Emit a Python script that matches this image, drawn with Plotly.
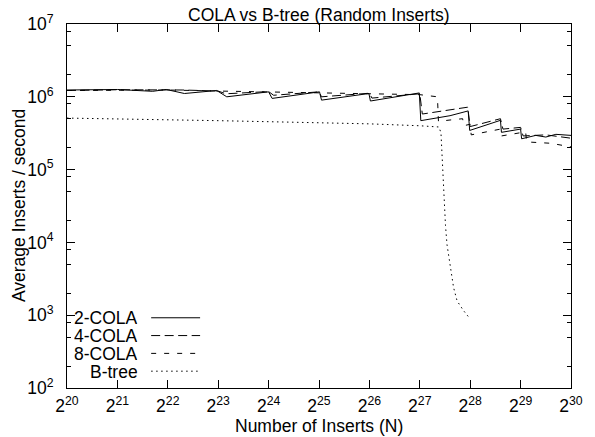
import plotly.graph_objects as go

# ---- data (x given as log2 of N, y as average inserts / second) ----
two_cola_k = [20.0, 21.0, 21.7, 21.97, 22.33, 22.97, 23.17, 24.0, 24.07, 25.01, 25.05,
              25.99, 26.02, 26.99, 27.02, 27.6, 27.96, 27.99, 28.6, 28.62, 29.0, 29.02,
              29.3, 29.5, 29.7, 30.0]
two_cola = [1.24e6, 1.26e6, 1.19e6, 1.26e6, 1.11e6, 1.22e6, 1.00e6, 1.17e6, 9.5e5, 1.17e6, 9.0e5,
            1.11e6, 8.75e5, 1.13e6, 4.7e5, 5.5e5, 6.4e5, 3.45e5, 4.75e5, 3.25e5, 3.6e5, 2.65e5,
            2.95e5, 2.8e5, 3.05e5, 2.95e5]

four_cola_k = [20.0, 21.0, 22.3, 23.0, 23.15, 24.0, 24.1, 25.0, 25.05, 26.0, 26.05, 27.0, 27.05,
               27.95, 28.0, 28.6, 28.65, 29.0, 29.05, 29.5, 30.0]
four_cola = [1.22e6, 1.25e6, 1.24e6, 1.20e6, 1.10e6, 1.18e6, 1.05e6, 1.17e6, 1.0e6, 1.12e6, 9.6e5,
             1.10e6, 5.8e5, 7.2e5, 3.9e5, 5.0e5, 3.6e5, 3.8e5, 2.9e5, 3.0e5, 2.7e5]

eight_cola_k = [20.0, 22.0, 23.0, 24.0, 25.0, 26.0, 27.0, 27.35, 27.37, 27.6, 27.85, 27.87,
                28.0, 28.02, 28.6, 28.62, 29.1, 29.12, 29.6, 30.0]
eight_cola = [1.22e6, 1.24e6, 1.2e6, 1.17e6, 1.13e6, 1.10e6, 1.07e6, 1.0e6, 4.6e5, 4.8e5, 5.0e5,
              4.0e5, 4.2e5, 3.0e5, 3.6e5, 2.9e5, 3.3e5, 2.4e5, 2.3e5, 2.05e5]

btree_k = [20, 21, 22, 23, 24, 25, 26, 27, 27.38, 27.42, 27.44, 27.46, 27.48, 27.51, 27.54,
           27.6, 27.67, 27.74, 27.8, 27.87, 27.94, 28.0]
btree = [5.1e5, 5.0e5, 4.85e5, 4.7e5, 4.55e5, 4.4e5, 4.25e5, 4.0e5, 3.85e5, 3.2e5, 1.6e5,
         7.0e4, 3.6e4, 1.7e4, 9.3e3, 4.7e3, 2.4e3, 1.57e3, 1.35e3, 1.15e3, 1.0e3, 8.9e2]

x_exponents = list(range(20, 31))
y_exponents = list(range(2, 8))
y_minor_mult = [2, 5, 8]

series_names = ["2-COLA", "4-COLA", "8-COLA", "B-tree"]
series_k = [two_cola_k, four_cola_k, eight_cola_k, btree_k]
series_v = [two_cola, four_cola, eight_cola, btree]
dashes = ["solid", "9px,4.5px", "5px,8px", "1.5px,3.5px"]

FONT = "Liberation Sans, Arial, Helvetica, sans-serif"
FS = 17.5

# plot area in pixels
L, R, T, B = 67, 582, 20, 388
W, H = R - L, B - T


def px(xp):
    return (xp - L) / W


def py(yp):
    return (B - yp) / H


fig = go.Figure()
for name, ks, vs, d in zip(series_names, series_k, series_v, dashes):
    fig.add_trace(go.Scatter(x=[2 ** k for k in ks], y=vs, mode="lines", name=name,
                             line=dict(color="black", width=1, dash=d), showlegend=False))

# manual legend (gnuplot style: text right-aligned, sample to the right)
leg_rows_px = [317, 335, 353, 371]
for name, d, ypx in zip(series_names, dashes, leg_rows_px):
    fig.add_annotation(x=px(141), y=py(ypx), xref="paper", yref="paper", text=name,
                       showarrow=False, xanchor="right", yanchor="middle", borderpad=0,
                       height=17, valign="middle",
                       font=dict(size=FS, family=FONT, color="black"))
    fig.add_shape(type="line", xref="paper", yref="paper", x0=px(153), x1=px(203),
                  y0=py(ypx), y1=py(ypx), line=dict(color="black", width=1, dash=d))

# title and axis titles
fig.add_annotation(x=0.5, y=py(11), xref="paper", yref="paper",
                   text="COLA vs B-tree (Random Inserts)", showarrow=False, borderpad=0,
                   xanchor="center", yanchor="middle", font=dict(size=FS))
fig.add_annotation(x=0.5, y=py(426), xref="paper", yref="paper",
                   text="Number of Inserts (N)", showarrow=False, borderpad=0,
                   xanchor="center", yanchor="middle", font=dict(size=FS))
fig.add_annotation(x=px(18), y=0.5, xref="paper", yref="paper",
                   text="Average Inserts / second", showarrow=False, textangle=-90,
                   borderpad=0, xanchor="center", yanchor="middle", font=dict(size=FS))

ymin_vals = [m * 10 ** e for e in y_exponents[:-1] for m in y_minor_mult]

fig.update_layout(
    width=595, height=437,
    margin=dict(l=L, r=595 - R, t=T, b=437 - B),
    paper_bgcolor="white", plot_bgcolor="white",
    font=dict(family=FONT, size=FS, color="black"),
    xaxis=dict(type="log", range=[20 * 0.30103, 30 * 0.30103],
               tickvals=[2 ** e for e in x_exponents],
               ticktext=[f"2<sup>{e}</sup>" for e in x_exponents],
               ticks="inside", ticklen=8, tickcolor="black", tickwidth=1,
               ticklabelstandoff=2,
               showline=True, linecolor="black", linewidth=1, mirror="allticks",
               showgrid=False, zeroline=False,
               tickfont=dict(size=FS)),
    yaxis=dict(type="log", range=[2, 7],
               tickvals=[10 ** e for e in y_exponents],
               ticktext=[f"10<sup>{e}</sup>" for e in y_exponents],
               ticks="inside", ticklen=8, tickcolor="black", tickwidth=1,
               ticklabelstandoff=9,
               minor=dict(tickmode="array", tickvals=ymin_vals, ticks="inside", ticklen=4,
                          tickcolor="black", tickwidth=1, showgrid=False),
               showline=True, linecolor="black", linewidth=1, mirror="allticks",
               showgrid=False, zeroline=False,
               tickfont=dict(size=FS)),
)

fig.write_html("out.html", config={"displayModeBar": False},
               post_script="document.body.style.margin='0';document.body.style.padding='0';")
